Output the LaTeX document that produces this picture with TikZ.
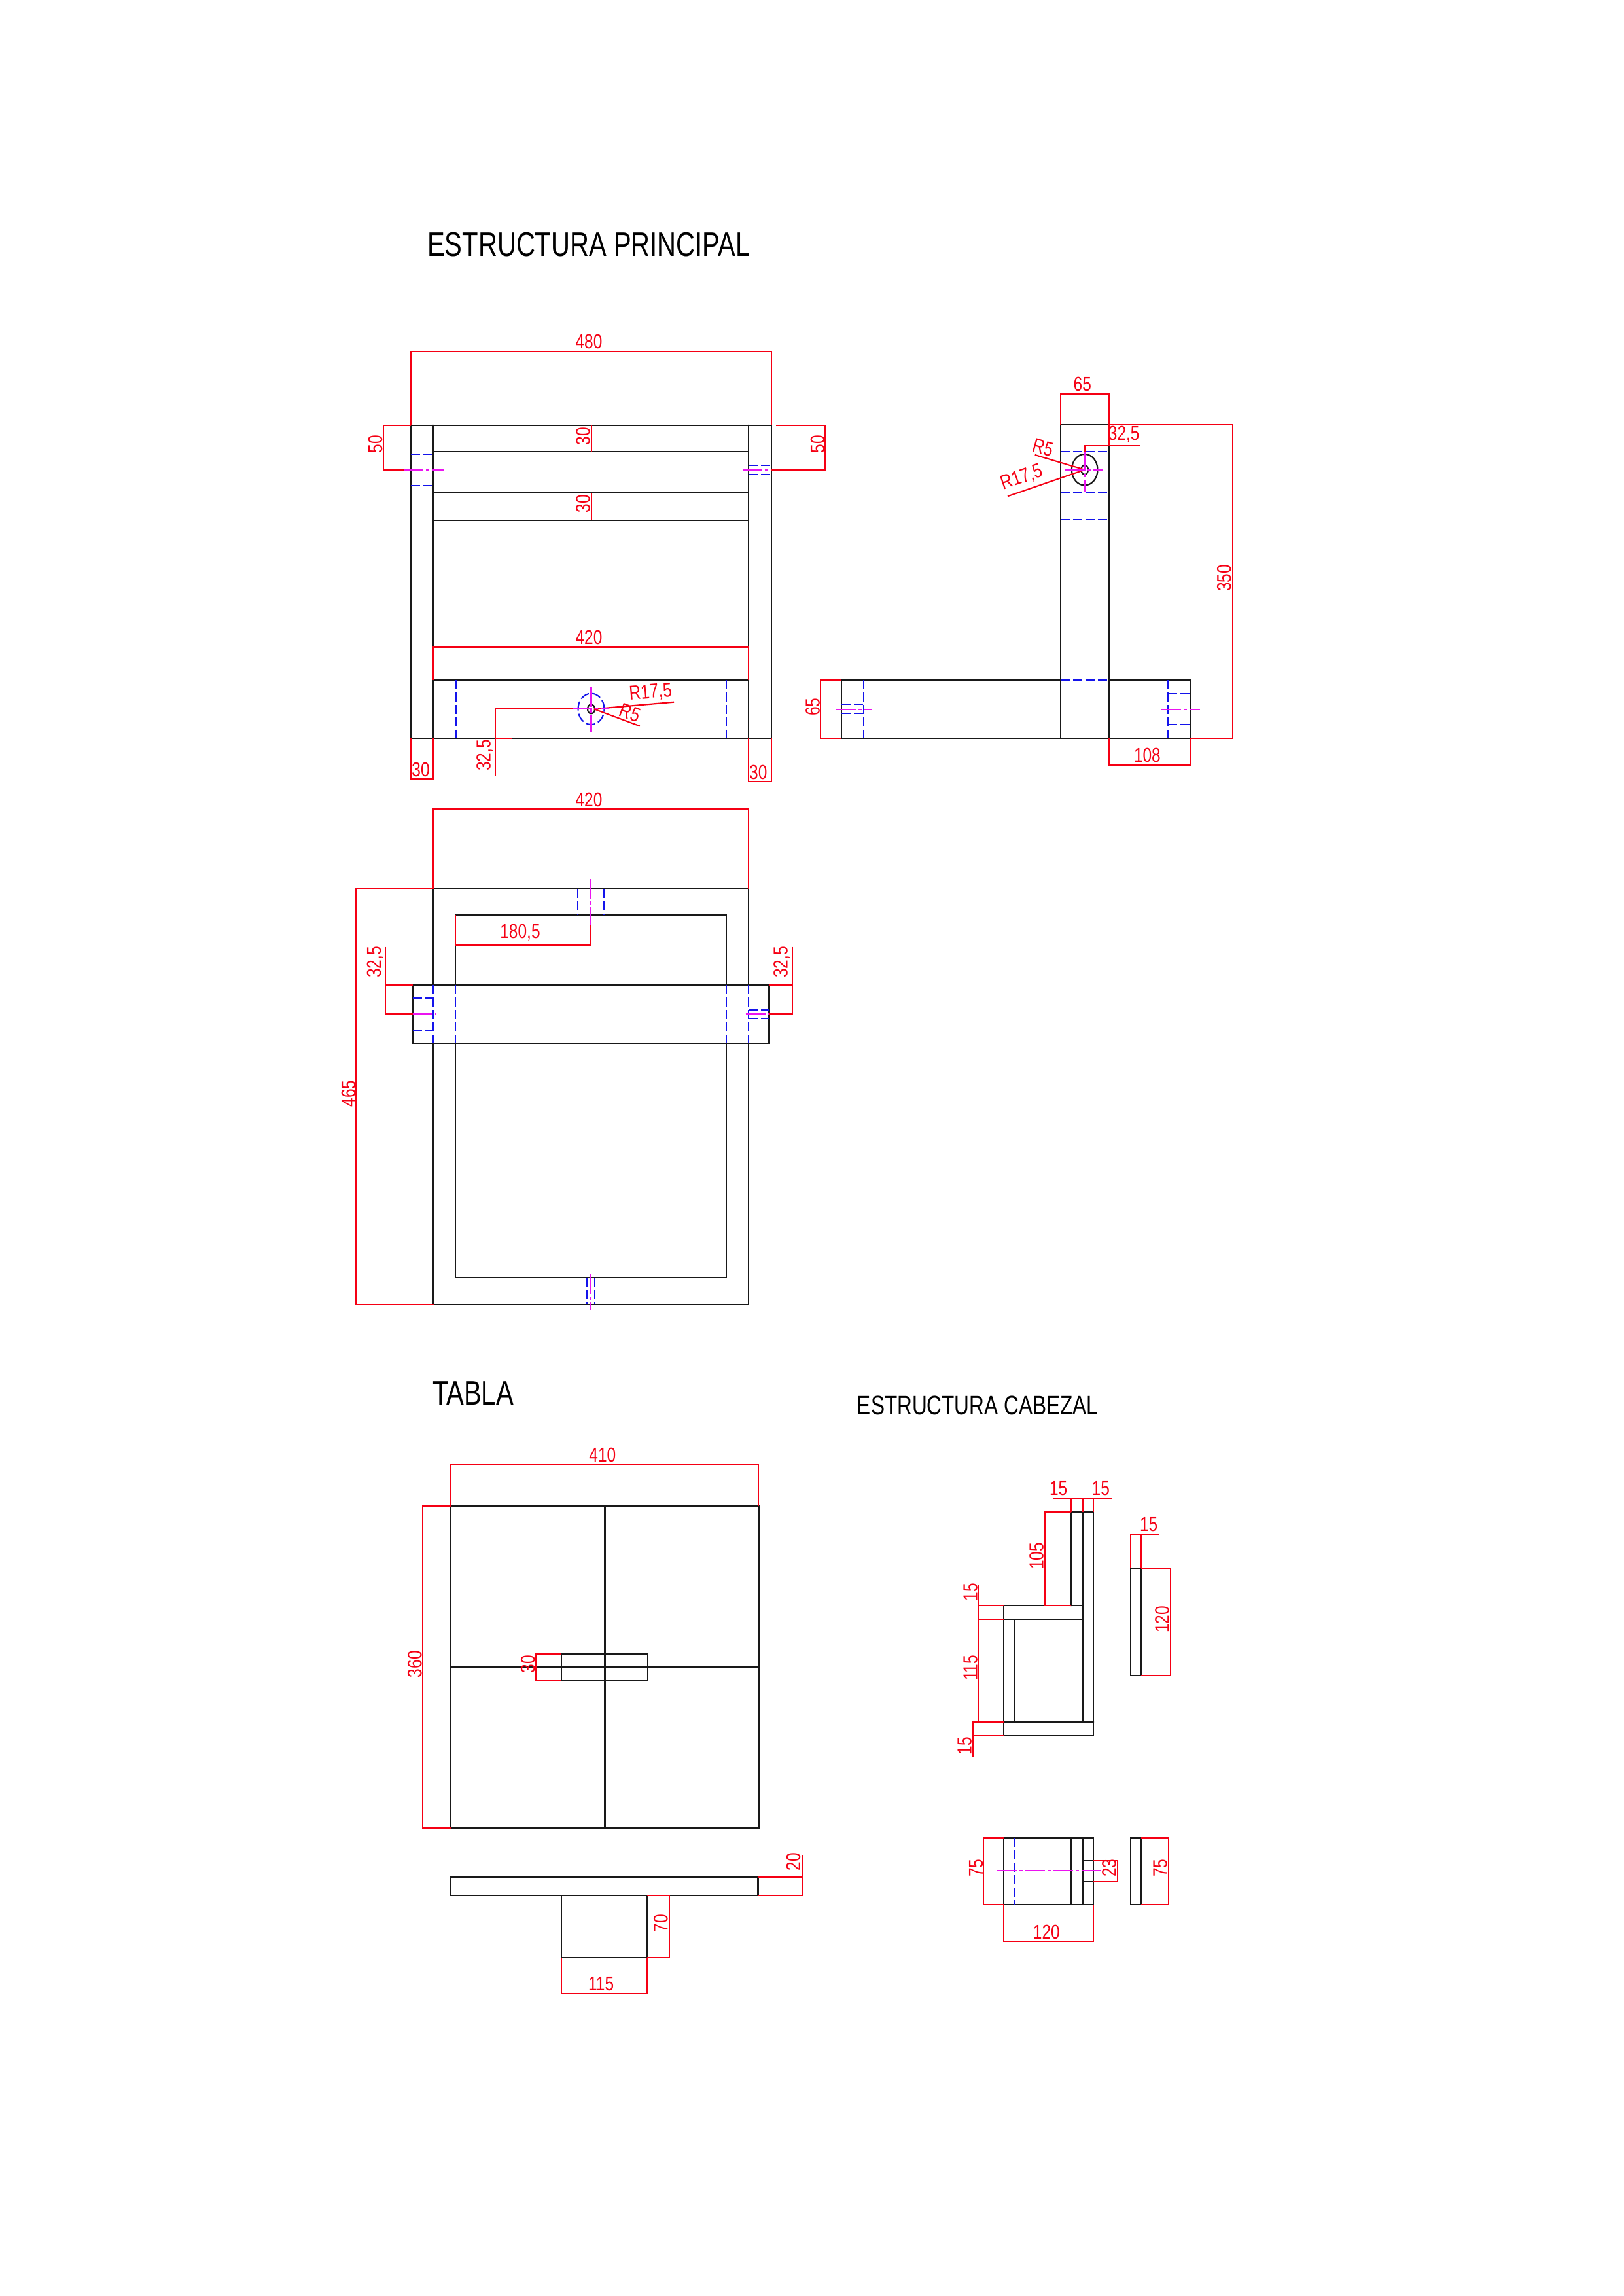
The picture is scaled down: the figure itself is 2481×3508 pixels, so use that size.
\documentclass[tikz,border=0pt]{standalone}
\usepackage{fontspec}
\setmainfont[FakeStretch=0.8]{Liberation Sans}
\newfontfamily\titlefont[FakeStretch=0.77]{Liberation Sans}
\definecolor{dimred}{RGB}{245,0,20}
\definecolor{hidblue}{RGB}{20,20,235}
\definecolor{ctrmag}{RGB}{235,20,240}
\tikzset{
 obj/.style={draw=black!90,line width=0.62pt,line cap=round},
 dimln/.style={draw=dimred,line width=0.6pt},
 hid/.style={draw=hidblue,line width=0.6pt,dash pattern=on 0.14cm off 0.05cm},
 ctr/.style={draw=ctrmag,line width=0.6pt,dash pattern=on 0.3cm off 0.04cm on 0.05cm off 0.04cm},
 dimtx/.style={text=dimred,inner sep=0pt,font=\fontsize{8.7}{8.7}\selectfont},
 vtx/.style={dimtx,rotate=90},
 titleA/.style={inner sep=0pt,text=black,font=\titlefont\fontsize{14.8}{14.8}\selectfont},
 titleB/.style={inner sep=0pt,text=black,font=\titlefont\fontsize{11.65}{11.65}\selectfont},
}
\begin{document}
\begin{tikzpicture}[x=0.01cm,y=-0.01cm]
\useasboundingbox (0,0) rectangle (2481,3508);
\fill[white] (0,0) rectangle (2481,3508);
% titles
\node[titleA] (t1) at (900,374) {ESTRUCTURA PRINCIPAL};
\node[titleA] (t2) at (723,2129) {TABLA};
\node[titleB] (t3) at (1494,2147) {ESTRUCTURA CABEZAL};

% ===== front view
\draw[obj] (628.2,649.7) rectangle (1178.7,1127.6);
\draw[obj] (662.3,649.7) -- (662.3,1127.6) (1144,649.7) -- (1144,1127.6);
\draw[obj] (662.3,689.9) -- (1144,689.9) (662.3,752.9) -- (1144,752.9) (662.3,794.6) -- (1144,794.6) (662.3,1038.9) -- (1144,1038.9);
\draw[hid] (628.2,693.8) -- (662.3,693.8) (628.2,741.8) -- (662.3,741.8);
\draw[hid] (1144,710.7) -- (1178.7,710.7) (1144,725.3) -- (1178.7,725.3);
\draw[hid] (697,1038.9) -- (697,1127.6) (1109.8,1038.9) -- (1109.8,1127.6);
\draw[hid] (903.5,1083.3) circle [x radius=0.2cm,y radius=0.237cm];
\draw[obj] (903.5,1083.3) circle [x radius=0.055cm,y radius=0.07cm];
% front dims
\draw[dimln] (628.2,649.7) -- (628.2,537.2) -- (1178.7,537.2) -- (1178.7,649.7);
\node[dimtx] (d480) at (900,522) {480};
\draw[dimln] (628.2,649.7) -- (586.3,649.7) -- (586.3,718) -- (617,718);
\node[vtx] (d50l) at (573.6,678.7) {50};
\draw[dimln] (1186,649.7) -- (1261,649.7) -- (1261,718) -- (1178.7,718);
\node[vtx] (d50r) at (1249.6,678.7) {50};
\draw[dimln] (903.7,649.7) -- (903.7,689.9);
\node[vtx] (d30a) at (891,666.6) {30};
\draw[dimln] (903.7,752.9) -- (903.7,794.6);
\node[vtx] (d30b) at (891,769.4) {30};
\draw[dimln] (662.3,1038.9) -- (662.3,988.5) -- (1144,988.5) -- (1144,1038.9);
\node[dimtx] (d420a) at (900,973.5) {420};
\draw[dimln] (756.7,1185.8) -- (756.7,1083.3) -- (880,1083.3);
\draw[dimln] (756.7,1127.6) -- (782.8,1127.6);
\node[vtx] (d325a) at (741,1153.8) {32,5};
\draw[dimln] (908,1083.3) -- (1030,1072.7);
\node[dimtx,rotate=5] (dr17a) at (994.3,1058.3) {R17,5};
\draw[dimln] (908,1083.3) -- (977.7,1109.3);
\node[dimtx,rotate=-20] (dr5a) at (962.7,1089.3) {R5};
\draw[dimln] (628.2,1127.6) -- (628.2,1190) -- (662.3,1190) -- (662.3,1127.6);
\node[dimtx] (d30c) at (643,1175.6) {30};
\draw[dimln] (1144,1127.6) -- (1144,1194) -- (1178.7,1194) -- (1178.7,1127.6);
\node[dimtx] (d30d) at (1158.8,1179.5) {30};
% front centres
\draw[ctr] (617,718) -- (678,718);
\draw[ctr] (1134.8,718) -- (1178.7,718);
\draw[ctr] (875,1083.3) -- (930,1083.3);
\draw[ctr] (903.5,1049.5) -- (903.5,1118);

% ===== side view
\draw[obj] (1694.9,1039) -- (1694.9,649.2) -- (1620.8,649.2) -- (1620.8,1039);
\draw[obj] (1620.8,1039) -- (1286,1039) -- (1286,1127.8) -- (1819,1127.8) -- (1819,1039) -- (1694.9,1039);
\draw[obj] (1620.8,1039) -- (1620.8,1127.8) (1694.9,1039) -- (1694.9,1127.8);
\draw[hid] (1620.8,690) -- (1694.9,690) (1620.8,752.8) -- (1694.9,752.8) (1620.8,794.4) -- (1694.9,794.4) (1620.8,1039) -- (1694.9,1039);
\draw[hid] (1320.4,1039) -- (1320.4,1127.8);
\draw[hid] (1286,1076) -- (1320.4,1076) (1286,1089.9) -- (1320.4,1089.9);
\draw[hid] (1785,1039) -- (1785,1127.8);
\draw[hid] (1785,1059.6) -- (1819,1059.6) (1785,1107.1) -- (1819,1107.1);
\draw[obj] (1657.7,717.7) circle [x radius=0.198cm,y radius=0.238cm];
\draw[obj] (1657.7,717.7) circle [x radius=0.053cm,y radius=0.072cm];
% side dims
\draw[dimln] (1620.8,649.2) -- (1620.8,602) -- (1694.9,602) -- (1694.9,649.2);
\node[dimtx] (d65t) at (1654.3,587.4) {65};
\draw[dimln] (1694.9,649.2) -- (1884.2,649.2) -- (1884.2,1127.8) -- (1819,1127.8);
\node[vtx] (d350) at (1870.8,883.2) {350};
\draw[dimln] (1694.9,1127.8) -- (1694.9,1168.6) -- (1819,1168.6) -- (1819,1127.8);
\node[dimtx] (d108) at (1753.4,1154.3) {108};
\draw[dimln] (1286,1039) -- (1254.3,1039) -- (1254.3,1127.8) -- (1286,1127.8);
\node[vtx] (d65l) at (1242,1080) {65};
\draw[dimln] (1694.9,649.2) -- (1694.9,681);
\draw[dimln] (1657.7,690) -- (1657.7,681) -- (1743.3,681);
\node[dimtx] (d325b) at (1717.7,663.3) {32,5};
\draw[dimln] (1581.7,695) -- (1657.7,717.7);
\node[dimtx,rotate=-16] (dr5b) at (1594,684.3) {R5};
\draw[dimln] (1540,758.3) -- (1657.7,717.7);
\node[dimtx,rotate=19] (dr17b) at (1561.7,730) {R17,5};
% side centres
\draw[ctr] (1627.7,717.7) -- (1685.7,717.7);
\draw[ctr] (1657.7,690) -- (1657.7,751.7);
\draw[ctr] (1278,1083.6) -- (1331.5,1083.6);
\draw[ctr] (1774.8,1083.6) -- (1834.2,1083.6);

% ===== plan view
\draw[obj] (662.5,1505) -- (662.5,1357.6) -- (1144.3,1357.6) -- (1144.3,1505);
\draw[obj] (662.5,1594) -- (662.5,1993) -- (1144.3,1993) -- (1144.3,1594);
\draw[obj] (696,1505) -- (696,1397.8) -- (1110,1397.8) -- (1110,1505);
\draw[obj] (696,1594) -- (696,1952.2) -- (1110,1952.2) -- (1110,1594);
\draw[obj] (631.4,1505) rectangle (1175.5,1594);
\draw[hid] (662.5,1505) -- (662.5,1594) (696,1505) -- (696,1594) (1110,1505) -- (1110,1594) (1144.3,1505) -- (1144.3,1594);
\draw[hid] (882.9,1357.6) -- (882.9,1397.8) (923.5,1357.6) -- (923.5,1397.8);
\draw[hid] (897.5,1952.2) -- (897.5,1993) (909.3,1952.2) -- (909.3,1993);
\draw[hid] (631.4,1525) -- (662.5,1525) (631.4,1574) -- (662.5,1574);
\draw[hid] (1144.3,1542.7) -- (1175.5,1542.7) (1144.3,1556.3) -- (1175.5,1556.3);
% plan dims
\draw[dimln] (662.5,1357.6) -- (662.5,1235.7) -- (1144.3,1235.7) -- (1144.3,1357.6);
\node[dimtx] (d420b) at (900,1221.6) {420};
\draw[dimln] (696,1397.8) -- (696,1443.8) -- (903.2,1443.8) -- (903.2,1413.5);
\node[dimtx] (d180) at (795,1425) {180,5};
\draw[dimln] (662.5,1357.6) -- (544.5,1357.6) -- (544.5,1993) -- (662.5,1993);
\node[vtx] (d465) at (532.7,1670.8) {465};
\draw[dimln] (631.4,1505) -- (588.9,1505) (588.9,1446.5) -- (588.9,1549.5) -- (631.4,1549.5);
\node[vtx] (d325c) at (573.3,1470) {32,5};
\draw[dimln] (1175.5,1505) -- (1210.9,1505) (1210.9,1446.5) -- (1210.9,1549.5) -- (1175.5,1549.5);
\node[vtx] (d325d) at (1194.8,1470) {32,5};
% plan centres
\draw[ctr] (903.2,1343) -- (903.2,1413.5);
\draw[ctr] (903.2,1947) -- (903.2,2002);
\draw[ctr] (631.4,1549.5) -- (666.3,1549.5);
\draw[ctr] (1139.6,1549.5) -- (1175.5,1549.5);

% ===== tabla
\draw[obj] (688.9,2301) rectangle (1159.4,2793);
\draw[obj] (924.4,2301) -- (924.4,2793) (688.9,2546.7) -- (1159.4,2546.7);
\draw[obj] (857.6,2526.6) rectangle (990.3,2568);
\draw[obj] (688.5,2868.2) rectangle (1158.5,2895.7);
\draw[obj] (857.6,2895.7) rectangle (989.4,2991);
\draw[dimln] (688.9,2301) -- (688.9,2237.9) -- (1159.4,2237.9) -- (1159.4,2301);
\node[dimtx] (d410) at (920.9,2223) {410};
\draw[dimln] (688.9,2301) -- (646,2301) -- (646,2793) -- (688.9,2793);
\node[vtx] (d360) at (633.8,2542.7) {360};
\draw[dimln] (857.6,2526.6) -- (819,2526.6) -- (819,2568) -- (857.6,2568);
\node[vtx] (d30e) at (806.9,2542.7) {30};
\draw[dimln] (1158.5,2868.2) -- (1226.2,2868.2) (1226.2,2834.3) -- (1226.2,2895.7) -- (1158.5,2895.7);
\node[vtx] (d20) at (1212.7,2844.7) {20};
\draw[dimln] (989.4,2895.7) -- (1022.8,2895.7) -- (1022.8,2991) -- (989.4,2991);
\node[vtx] (d70) at (1009.8,2938.8) {70};
\draw[dimln] (857.6,2991) -- (857.6,3045.6) -- (989.4,3045.6) -- (989.4,2991);
\node[dimtx] (d115a) at (918.7,3030.6) {115};

% ===== cabezal side
\draw[obj] (1637.3,2453.3) -- (1637.3,2310) -- (1671.3,2310) -- (1671.3,2652) -- (1534,2652) -- (1534,2453.3) -- (1654.7,2453.3);
\draw[obj] (1654.7,2310) -- (1654.7,2630.7);
\draw[obj] (1534,2474.3) -- (1654.7,2474.3);
\draw[obj] (1551.3,2474.3) -- (1551.3,2630.7);
\draw[obj] (1534,2630.7) -- (1671.3,2630.7);
\draw[obj] (1727.7,2396) rectangle (1744.3,2560);
% dims
\draw[dimln] (1610,2288.7) -- (1698.7,2288.7);
\draw[dimln] (1637.3,2288.7) -- (1637.3,2310) (1654.7,2288.7) -- (1654.7,2310) (1671.3,2288.7) -- (1671.3,2310);
\node[dimtx] (d15a) at (1617.7,2274) {15};
\node[dimtx] (d15b) at (1682.3,2274) {15};
\draw[dimln] (1637.3,2310) -- (1596.7,2310) -- (1596.7,2453.3) -- (1637.3,2453.3);
\node[vtx] (d105) at (1584,2377.3) {105};
\draw[dimln] (1495.3,2421.7) -- (1495.3,2630.7);
\draw[dimln] (1495.3,2453.3) -- (1534,2453.3) (1495.3,2474.3) -- (1534,2474.3);
\draw[dimln] (1534,2630.7) -- (1486.7,2630.7) -- (1486.7,2685.3) (1486.7,2652) -- (1534,2652);
\node[vtx] (d15c) at (1483.3,2432.7) {15};
\node[vtx] (d115b) at (1483.3,2548.3) {115};
\node[vtx] (d15d) at (1474.3,2667.7) {15};
\draw[dimln] (1727.7,2396) -- (1727.7,2343.7) -- (1772,2343.7) (1744.3,2343.7) -- (1744.3,2396);
\node[dimtx] (d15e) at (1755.7,2329.3) {15};
\draw[dimln] (1744.3,2396) -- (1788.7,2396) -- (1788.7,2560) -- (1744.3,2560);
\node[vtx] (d120a) at (1776,2474.3) {120};

% ===== cabezal plan
\draw[obj] (1534,2807.7) rectangle (1671.3,2910);
\draw[obj] (1637.3,2807.7) -- (1637.3,2910) (1654.7,2807.7) -- (1654.7,2910);
\draw[obj] (1654.7,2842.7) -- (1671.3,2842.7) (1654.7,2874.7) -- (1671.3,2874.7);
\draw[hid] (1551.3,2807.7) -- (1551.3,2910);
\draw[ctr] (1524,2858.3) -- (1681.7,2858.3);
\draw[obj] (1727.7,2807.7) rectangle (1744.3,2910);
\draw[dimln] (1534,2807.7) -- (1503.3,2807.7) -- (1503.3,2910) -- (1534,2910);
\node[vtx] (d75a) at (1491.7,2854) {75};
\draw[dimln] (1671.3,2842.7) -- (1708,2842.7) -- (1708,2874.7) -- (1671.3,2874.7);
\node[vtx] (d23) at (1695,2854) {23};
\draw[dimln] (1534,2910) -- (1534,2966) -- (1671.3,2966) -- (1671.3,2910);
\node[dimtx] (d120b) at (1599.3,2951.7) {120};
\draw[dimln] (1744.3,2807.7) -- (1786,2807.7) -- (1786,2910) -- (1744.3,2910);
\node[vtx] (d75b) at (1773.3,2854) {75};
\end{tikzpicture}
\end{document}
